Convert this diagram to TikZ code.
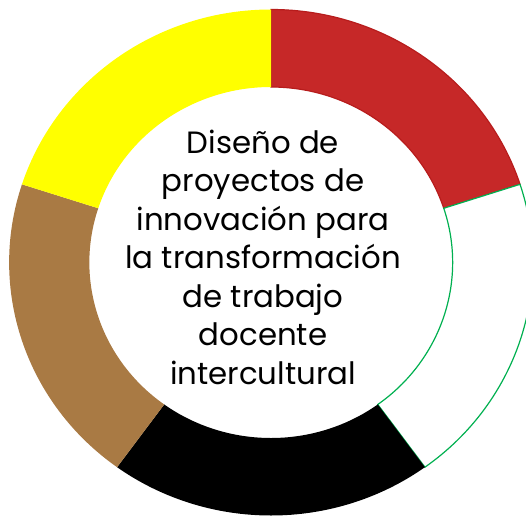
\documentclass[tikz,border=0pt]{standalone}
\usepackage{fontspec}
\setmainfont{Poppins}
\usepackage{tikz}

\definecolor{segred}{HTML}{C62828}
\definecolor{segredline}{HTML}{B71C1C}
\definecolor{segyellow}{HTML}{FFFF00}
\definecolor{segbrown}{HTML}{A97A44}
\definecolor{seggreen}{HTML}{00B050}

\tikzset{
	ring/.style={line width=1.2pt},
	title/.style={align=center, font=\fontsize{30.8}{38.5}\selectfont}
}

% one ring segment: start angle, end angle
\newcommand{\ringpart}[3]{%
	\path[ring,#3] (#1:253) arc[start angle=#1, end angle=#2, radius=253]
		-- (#2:175.5) arc[start angle=#2, end angle=#1, radius=175.5] -- cycle;}

\begin{document}
\begin{tikzpicture}[x=1pt,y=1pt]
	\useasboundingbox (0,0) rectangle (526,515);
	\clip (0,0) rectangle (526,515);
	\begin{scope}[shift={(271,252.5)},xscale=1.035]
		\ringpart{90}{18}{fill=segred,draw=segredline}
		\ringpart{18}{-54}{fill=white,draw=seggreen}
		\ringpart{-54}{-126}{fill=black}
		\ringpart{-126}{-198}{fill=segbrown}
		\ringpart{162}{90}{fill=segyellow}
	\end{scope}
	\node[title] (centro) at (263,258) {Diseño de\\proyectos de\\innovación para\\la transformación\\de trabajo\\docente\\intercultural};
\end{tikzpicture}
\end{document}
